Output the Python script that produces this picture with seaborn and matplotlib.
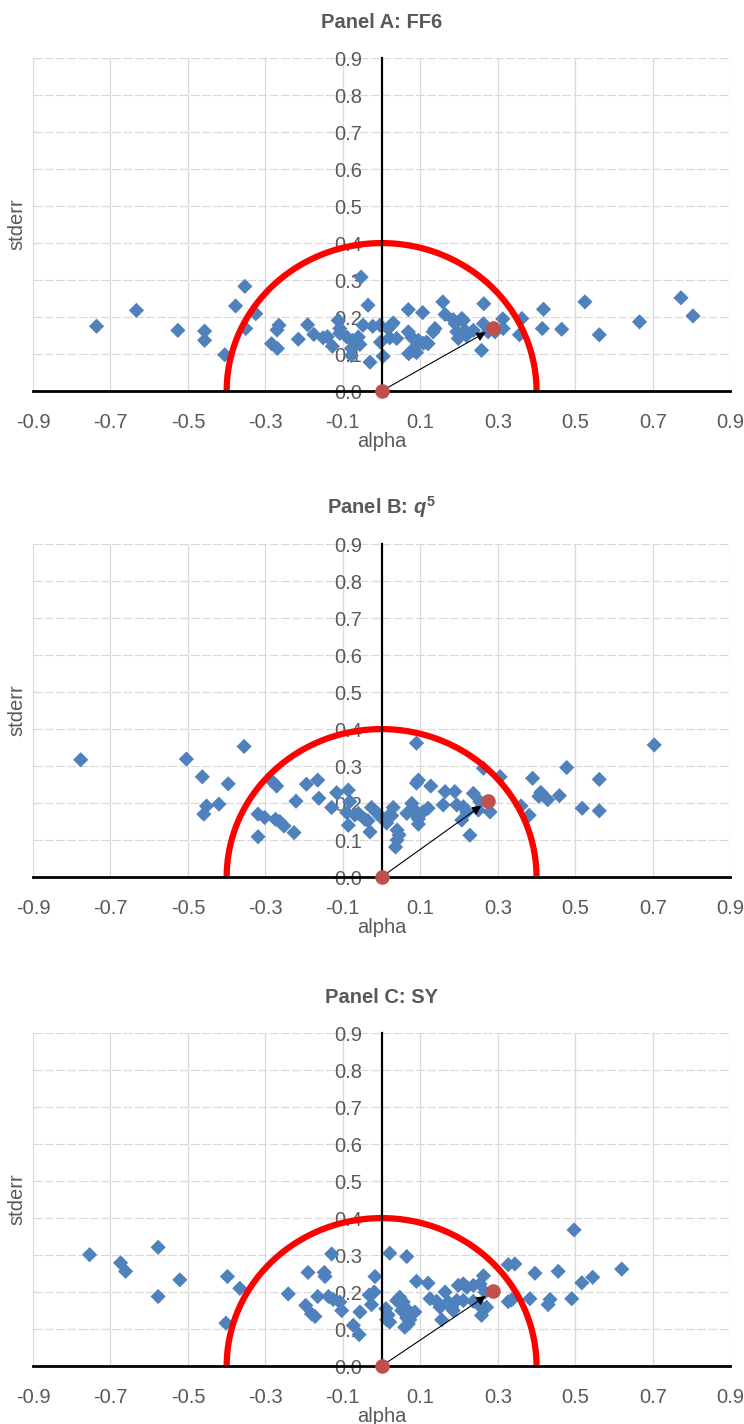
import numpy as np
import matplotlib
matplotlib.use('Agg')
import matplotlib.pyplot as plt
import seaborn as sns
from matplotlib import font_manager
from matplotlib.ticker import FormatStrFormatter

# Panel A: FF6
alpha_a = [-0.736, -0.633, -0.526, -0.457, -0.457, -0.405, -0.377, -0.353, -0.325, -0.351,
           -0.27, -0.265, -0.284, -0.269, -0.215, -0.191, -0.175, -0.151, -0.14, -0.127,
           -0.112, -0.108, -0.108, -0.09, -0.075, -0.06, -0.078, -0.078, -0.056, -0.053,
           -0.035, -0.048, -0.03, -0.023, -0.004, -0.003, 0.004, 0.017, 0.025, 0.03,
           0.021, 0.039, 0.069, 0.069, 0.078, 0.09, 0.081, 0.09, 0.095, 0.106,
           0.108, 0.116, 0.133, 0.138, 0.158, 0.164, 0.185, 0.19, 0.207, 0.211,
           0.194, 0.198, 0.215, 0.237, 0.264, 0.263, 0.258, 0.275, 0.313, 0.314,
           0.293, 0.362, 0.356, 0.418, 0.415, 0.465, 0.525, 0.562, 0.666, 0.773,
           0.804, 0.07, 0.12, 0.219]
stderr_a = [0.175, 0.218, 0.164, 0.162, 0.137, 0.098, 0.23, 0.283, 0.209, 0.169,
            0.165, 0.178, 0.128, 0.115, 0.14, 0.179, 0.153, 0.144, 0.147, 0.121,
            0.191, 0.169, 0.156, 0.146, 0.137, 0.146, 0.115, 0.096, 0.126, 0.308,
            0.232, 0.178, 0.078, 0.175, 0.178, 0.132, 0.094, 0.169, 0.178, 0.184,
            0.144, 0.142, 0.22, 0.16, 0.145, 0.122, 0.11, 0.104, 0.137, 0.212,
            0.129, 0.132, 0.16, 0.169, 0.241, 0.207, 0.193, 0.182, 0.196, 0.191,
            0.16, 0.142, 0.164, 0.164, 0.236, 0.182, 0.11, 0.16, 0.195, 0.169,
            0.16, 0.196, 0.152, 0.221, 0.169, 0.167, 0.241, 0.152, 0.187, 0.252,
            0.203, 0.101, 0.128, 0.15]
mean_a = (0.288, 0.170)

# Panel B: q5
alpha_b = [-0.777, -0.504, -0.355, -0.463, -0.396, -0.452, -0.459, -0.42, -0.319, -0.302,
           -0.319, -0.282, -0.271, -0.274, -0.263, -0.252, -0.226, -0.221, -0.194, -0.165,
           -0.162, -0.129, -0.116, -0.086, -0.082, -0.09, -0.086, -0.069, -0.06, -0.043,
           -0.035, -0.03, -0.026, -0.01, -0.006, 0.005, 0.013, 0.017, 0.03, 0.026,
           0.04, 0.045, 0.04, 0.036, 0.065, 0.078, 0.086, 0.09, 0.095, 0.095,
           0.09, 0.095, 0.09, 0.107, 0.12, 0.127, 0.159, 0.164, 0.189, 0.194,
           0.211, 0.207, 0.22, 0.228, 0.237, 0.25, 0.254, 0.28, 0.263, 0.306,
           0.39, 0.478, 0.562, 0.411, 0.406, 0.429, 0.459, 0.36, 0.381, 0.518,
           0.562, 0.704]
stderr_b = [0.317, 0.319, 0.353, 0.271, 0.252, 0.192, 0.17, 0.197, 0.17, 0.161,
            0.109, 0.258, 0.246, 0.156, 0.15, 0.138, 0.12, 0.205, 0.251, 0.262,
            0.213, 0.188, 0.228, 0.235, 0.204, 0.174, 0.14, 0.168, 0.172, 0.156,
            0.152, 0.122, 0.188, 0.172, 0.166, 0.157, 0.146, 0.164, 0.188, 0.166,
            0.127, 0.114, 0.1, 0.081, 0.172, 0.199, 0.181, 0.166, 0.157, 0.143,
            0.254, 0.262, 0.362, 0.176, 0.186, 0.246, 0.195, 0.231, 0.231, 0.195,
            0.19, 0.154, 0.176, 0.113, 0.226, 0.181, 0.204, 0.176, 0.294, 0.271,
            0.267, 0.296, 0.264, 0.229, 0.218, 0.209, 0.22, 0.192, 0.167, 0.186,
            0.179, 0.357]
mean_b = (0.275, 0.206)

# Panel C: SY
alpha_c = [-0.754, -0.674, -0.661, -0.577, -0.577, -0.521, -0.398, -0.366, -0.402, -0.241,
           -0.19, -0.196, -0.181, -0.172, -0.165, -0.137, -0.125, -0.148, -0.146, -0.129,
           -0.108, -0.103, -0.073, -0.058, -0.056, -0.032, -0.026, -0.017, -0.019, 0.021,
           0.065, 0.011, 0.017, 0.013, 0.021, 0.039, 0.047, 0.056, 0.052, 0.069,
           0.086, 0.065, 0.073, 0.06, 0.069, 0.09, 0.12, 0.125, 0.142, 0.151,
           0.155, 0.164, 0.172, 0.181, 0.185, 0.198, 0.211, 0.22, 0.237, 0.254,
           0.263, 0.267, 0.194, 0.211, 0.237, 0.258, 0.271, 0.258, 0.327, 0.344,
           0.396, 0.456, 0.497, 0.517, 0.545, 0.62, 0.327, 0.336, 0.383, 0.43,
           0.435, 0.491]
stderr_c = [0.301, 0.279, 0.256, 0.321, 0.188, 0.233, 0.242, 0.21, 0.116, 0.195,
            0.253, 0.164, 0.141, 0.134, 0.188, 0.188, 0.18, 0.253, 0.242, 0.303,
            0.173, 0.15, 0.11, 0.085, 0.146, 0.192, 0.166, 0.242, 0.2, 0.305,
            0.296, 0.155, 0.138, 0.125, 0.119, 0.177, 0.186, 0.173, 0.15, 0.15,
            0.146, 0.13, 0.125, 0.105, 0.114, 0.229, 0.224, 0.182, 0.175, 0.159,
            0.125, 0.2, 0.173, 0.158, 0.15, 0.218, 0.222, 0.213, 0.218, 0.222,
            0.244, 0.2, 0.177, 0.177, 0.175, 0.158, 0.159, 0.137, 0.274, 0.276,
            0.251, 0.256, 0.368, 0.225, 0.24, 0.262, 0.174, 0.179, 0.182, 0.166,
            0.18, 0.182]
mean_c = (0.287, 0.202)

titles = ['Panel A: FF6', r'Panel B: $q^{5}$', 'Panel C: SY']
x_ticks = [-0.9, -0.7, -0.5, -0.3, -0.1, 0.1, 0.3, 0.5, 0.7, 0.9]
y_ticks = [0.0, 0.1, 0.2, 0.3, 0.4, 0.5, 0.6, 0.7, 0.8, 0.9]
radius = 0.4

BLUE = '#4f81bd'
DOT = '#c0504d'
GREY = '#595959'

sns.set_style('white')
names = {f.name for f in font_manager.fontManager.ttflist}
FONT = 'Liberation Sans Narrow' if 'Liberation Sans Narrow' in names else 'Liberation Sans'
plt.rcParams['font.family'] = [FONT, 'DejaVu Sans']
plt.rcParams['axes.unicode_minus'] = False
plt.rcParams['mathtext.fontset'] = 'custom'
plt.rcParams['mathtext.it'] = FONT + ':italic:bold'
plt.rcParams['mathtext.rm'] = FONT + ':bold'


def draw_panel(ax, alpha, stderr, mean, title):
    sns.scatterplot(x=alpha, y=stderr, marker='D', color=BLUE, s=60,
                    edgecolor='none', linewidth=0, ax=ax, zorder=1)
    t = np.linspace(0, np.pi, 200)
    ax.plot(radius * np.cos(t), radius * np.sin(t), color='#ff0000', lw=4.5,
            solid_capstyle='round', zorder=2)
    ax.annotate('', xy=mean, xytext=(0, 0),
                arrowprops=dict(arrowstyle='-|>', color='black', lw=0.8,
                                shrinkA=0, shrinkB=6, mutation_scale=14),
                zorder=3)
    ax.scatter([0, mean[0]], [0, mean[1]], s=90, color=DOT, zorder=4, clip_on=False)

    ax.set_xlim(-0.9, 0.9)
    ax.set_ylim(0, 0.9)
    ax.set_xticks(x_ticks)
    ax.set_yticks(y_ticks)
    ax.yaxis.set_major_formatter(FormatStrFormatter('%.1f'))
    ax.xaxis.set_major_formatter(FormatStrFormatter('%.1f'))
    ax.tick_params(axis='both', length=0, labelsize=14.5, labelcolor=GREY)
    ax.tick_params(axis='x', pad=16)
    ax.tick_params(axis='y', pad=14)

    ax.set_axisbelow(True)
    ax.xaxis.grid(True, color='#d9d9d9', lw=0.9)
    ax.yaxis.grid(True, color='#d9d9d9', lw=0.9, linestyle=(0, (7, 2)))

    ax.spines['left'].set_position(('data', 0))
    ax.spines['left'].set_color('black')
    ax.spines['left'].set_linewidth(1.6)
    ax.spines['bottom'].set_color('black')
    ax.spines['bottom'].set_linewidth(2.0)
    ax.spines['top'].set_visible(False)
    ax.spines['right'].set_visible(False)

    ax.set_xlabel('alpha', fontsize=14.5, color=GREY)
    ax.set_ylabel('stderr', fontsize=14.5, color=GREY)
    ax.xaxis.set_label_coords(0.5, -0.122)
    ax.yaxis.set_label_coords(-0.01, 0.5)
    ax.set_title(title, fontsize=14.5, fontweight='bold', color=GREY, pad=22)


fig = plt.figure(figsize=(7.44, 14.24), dpi=100)
bottoms = [0.7254, 0.3841, 0.0407]
panels = [(alpha_a, stderr_a, mean_a), (alpha_b, stderr_b, mean_b), (alpha_c, stderr_c, mean_c)]
for b, (al, se, mn), ttl in zip(bottoms, panels, titles):
    ax = fig.add_axes([0.0444, b, 0.937, 0.2338])
    draw_panel(ax, al, se, mn, ttl)

fig.savefig('out.png', dpi=100, facecolor='white')
